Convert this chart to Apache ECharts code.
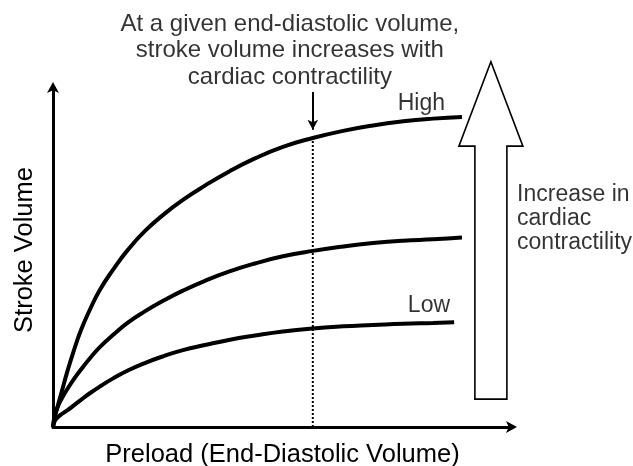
<!DOCTYPE html>
<html><head><meta charset="utf-8">
<script src="https://cdn.jsdelivr.net/npm/echarts@6/dist/echarts.min.js"></script>
<style>html,body{margin:0;padding:0;background:#fff}#c{width:633px;height:466px}</style>
</head><body><div id="c"></div>
<script>
// Preload (end-diastolic volume), arbitrary units 0-100
const preload    = [0,0.4,1.1,2.0,3.1,4.4,6.1,8.1,10.2,13.1,16.3,20.0,24.0,28.3,33.1,38.3,44.0,50.1,56.6,63.2,69.7,76.3,82.8,89.1];
const lowPreload = [0,0.4,1.1,2.0,3.1,4.4,6.1,8.1,10.2,13.1,16.3,20.0,24.0,28.3,33.1,38.3,44.0,50.1,56.6,63.2,69.7,76.3,82.8,87.4];
// Stroke volume, arbitrary units 0-100
const highSV = [0,2.9,6.5,10.9,16.2,21.9,28.5,34.7,40.3,46.3,52.1,57.6,62.4,66.8,71.0,75.1,79.0,82.4,85.0,87.1,88.7,89.9,90.7,91.2];
const midSV  = [0,3.5,6.2,8.6,11.1,13.8,16.9,20.3,23.5,27.1,30.7,34.0,37.1,40.1,43.0,45.7,48.1,50.2,51.8,53.1,54.1,54.8,55.2,55.7];
const lowSV  = [0,1.8,2.9,3.9,4.9,6.2,8.0,10.0,11.9,14.3,16.6,18.8,20.8,22.6,24.1,25.6,26.9,28.1,29.0,29.6,30.0,30.4,30.6,30.8];
// Given end-diastolic volume marker
const givenEDV = [56.6, 0, 85.0];          // x, from y, to y
const pointer  = [56.6, 98.5, 87.4];       // x, from y, to y
// Contractility arrow: x, bottom, head base, tip
const bigArrow = [95.4, 8.2, 82.6, 107.4];
// Text annotations
const labelText = ['At a given end-diastolic volume,\nstroke volume increases with\ncardiac contractility', 'High', 'Low', 'Increase in\ncardiac\ncontractility'];
const labelPos  = [[51.6, 110.7], [85.4, 95.1], [86.5, 35.7], [101.1, 61.2]];
const xTitle = 'Preload (End-Diastolic Volume)';
const yTitle = 'Stroke Volume';

const FONT = '"Liberation Sans", Arial, Helvetica, sans-serif';
const chart = echarts.init(document.getElementById('c'), null, {renderer: 'canvas'});
const curve = (xs, ys) => xs.map((x, i) => [x, ys[i]]);
const lineSeries = (name, data) => ({
  name, type: 'line', data, smooth: 0.5, showSymbol: false,
  lineStyle: {color: '#000', width: 4}, silent: true, z: 3
});
const axisCommon = {
  type: 'value', min: 0, max: 100,
  axisLine: {show: true, onZero: false, symbol: ['none', 'arrow'], symbolSize: [9, 11], symbolOffset: [0, 5],
    lineStyle: {color: '#000', width: 3}},
  axisTick: {show: false}, axisLabel: {show: false}, splitLine: {show: false},
  nameLocation: 'middle',
  nameTextStyle: {color: '#000', fontSize: 25.5, fontFamily: FONT}
};
const labelPlacement = ['inside', 'left', 'left', 'right'];
const labelAlign = ['center', 'right', 'right', 'left'];
const labelSize = [24, 23, 23, 23];
const labelLH = [26.5, 26, 26, 24];

chart.setOption({
  animation: false,
  backgroundColor: '#fff',
  grid: {left: 53, top: 87, width: 459, height: 340, containLabel: false, outerBoundsMode: 'none'},
  xAxis: Object.assign({}, axisCommon, {name: xTitle, nameGap: 15}),
  yAxis: Object.assign({}, axisCommon, {name: yTitle, nameGap: 15, nameRotate: 90,
    nameTextStyle: Object.assign({}, axisCommon.nameTextStyle, {padding: [0, 0, 0, 14]})}),
  series: [
    lineSeries('High', curve(preload, highSV)),
    lineSeries('Normal', curve(preload, midSV)),
    lineSeries('Low', curve(lowPreload, lowSV)),
    {
      type: 'line', data: [[givenEDV[0], givenEDV[1]], [givenEDV[0], givenEDV[2]]],
      showSymbol: false, silent: true, z: 2,
      lineStyle: {color: '#000', width: 2, type: [2, 2]}
    },
    {
      type: 'line', data: [], silent: true,
      markLine: {
        silent: true, symbol: ['none', 'arrow'], symbolSize: [8, 10],
        label: {show: false},
        lineStyle: {color: '#000', width: 2, type: 'solid'},
        data: [[{coord: [pointer[0], pointer[1]]}, {coord: [pointer[0], pointer[2]]}]]
      }
    },
    {
      type: 'custom', silent: true, clip: false, z: 1,
      data: [bigArrow],
      renderItem: (params, api) => {
        const b = api.coord([api.value(0), api.value(1)]);
        const h = api.coord([api.value(0), api.value(2)]);
        const t = api.coord([api.value(0), api.value(3)]);
        const cx = b[0], sw = 16, hw = 32;
        return {
          type: 'polygon',
          shape: {points: [[cx - sw, b[1]], [cx - sw, h[1]], [cx - hw, h[1]], [cx, t[1]], [cx + hw, h[1]], [cx + sw, h[1]], [cx + sw, b[1]]]},
          style: {fill: '#fff', stroke: '#000', lineWidth: 1.6}
        };
      }
    },
    {
      type: 'scatter', symbolSize: 0, silent: true, clip: false, z: 5,
      data: labelText.map((t, i) => ({
        value: labelPos[i], name: t,
        label: {show: true, position: labelPlacement[i], distance: 0, align: labelAlign[i],
          verticalAlign: 'middle', formatter: '{b}', color: '#000',
          fontSize: labelSize[i], lineHeight: labelLH[i], fontFamily: FONT}
      }))
    }
  ]
});
</script></body></html>
